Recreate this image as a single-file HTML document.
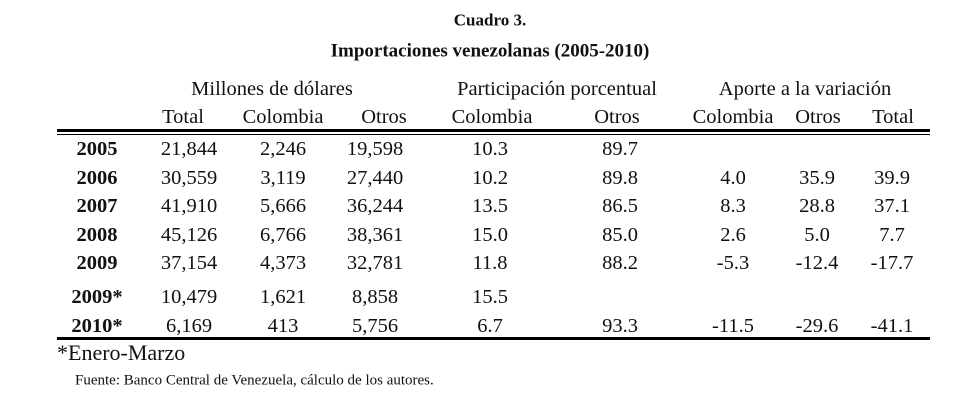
<!DOCTYPE html>
<html><head><meta charset="utf-8"><style>
body{margin:0;width:980px;height:406px;background:#fff;position:relative;overflow:hidden;font-family:"Liberation Serif",serif;color:#111}
.t{position:absolute;transform:translate(-50%,-50%);white-space:nowrap;font-size:20.5px;line-height:1}
.b{font-weight:bold}
.l{position:absolute;background:#000}
</style></head><body>
<div class="t b" style="left:490px;top:20px;font-size:17px">Cuadro 3.</div>
<div class="t b" style="left:490px;top:51px;font-size:19px">Importaciones venezolanas (2005-2010)</div>
<div class="t" style="left:272px;top:89px">Millones de dólares</div>
<div class="t" style="left:557px;top:89px">Participación porcentual</div>
<div class="t" style="left:805px;top:89px">Aporte a la variación</div>
<div class="t" style="left:183px;top:117px">Total</div>
<div class="t" style="left:283px;top:117px">Colombia</div>
<div class="t" style="left:384px;top:117px">Otros</div>
<div class="t" style="left:492px;top:117px">Colombia</div>
<div class="t" style="left:617px;top:117px">Otros</div>
<div class="t" style="left:733px;top:117px">Colombia</div>
<div class="t" style="left:818px;top:117px">Otros</div>
<div class="t" style="left:893px;top:117px">Total</div>
<div class="l" style="left:57px;top:129px;width:873px;height:3px"></div>
<div class="l" style="left:57px;top:134px;width:873px;height:1px"></div>
<div class="l" style="left:57px;top:337px;width:873px;height:3px"></div>
<div id="rows"></div>
<div class="t" style="left:57px;top:353px;transform:translate(0,-50%);font-size:22px">*Enero-Marzo</div>
<div class="t" style="left:75px;top:381px;transform:translate(0,-50%);font-size:15px">Fuente: Banco Central de Venezuela, cálculo de los autores.</div>
<script>
var rows=[[149,"2005","21,844","2,246","19,598","10.3","89.7","","",""],
[178,"2006","30,559","3,119","27,440","10.2","89.8","4.0","35.9","39.9"],
[206,"2007","41,910","5,666","36,244","13.5","86.5","8.3","28.8","37.1"],
[235,"2008","45,126","6,766","38,361","15.0","85.0","2.6","5.0","7.7"],
[263,"2009","37,154","4,373","32,781","11.8","88.2","-5.3","-12.4","-17.7"],
[297,"2009*","10,479","1,621","8,858","15.5","","","",""],
[326,"2010*","6,169","413","5,756","6.7","93.3","-11.5","-29.6","-41.1"]];
var xs=[97,189,283,375,490,620,733,817,892];
var h="";
rows.forEach(function(r){for(var i=1;i<r.length;i++){if(!r[i])continue;
h+='<div class="t'+(i==1?' b':'')+'" style="left:'+xs[i-1]+'px;top:'+r[0]+'px">'+r[i]+'</div>';}});
document.getElementById("rows").innerHTML=h;
</script>
</body></html>
